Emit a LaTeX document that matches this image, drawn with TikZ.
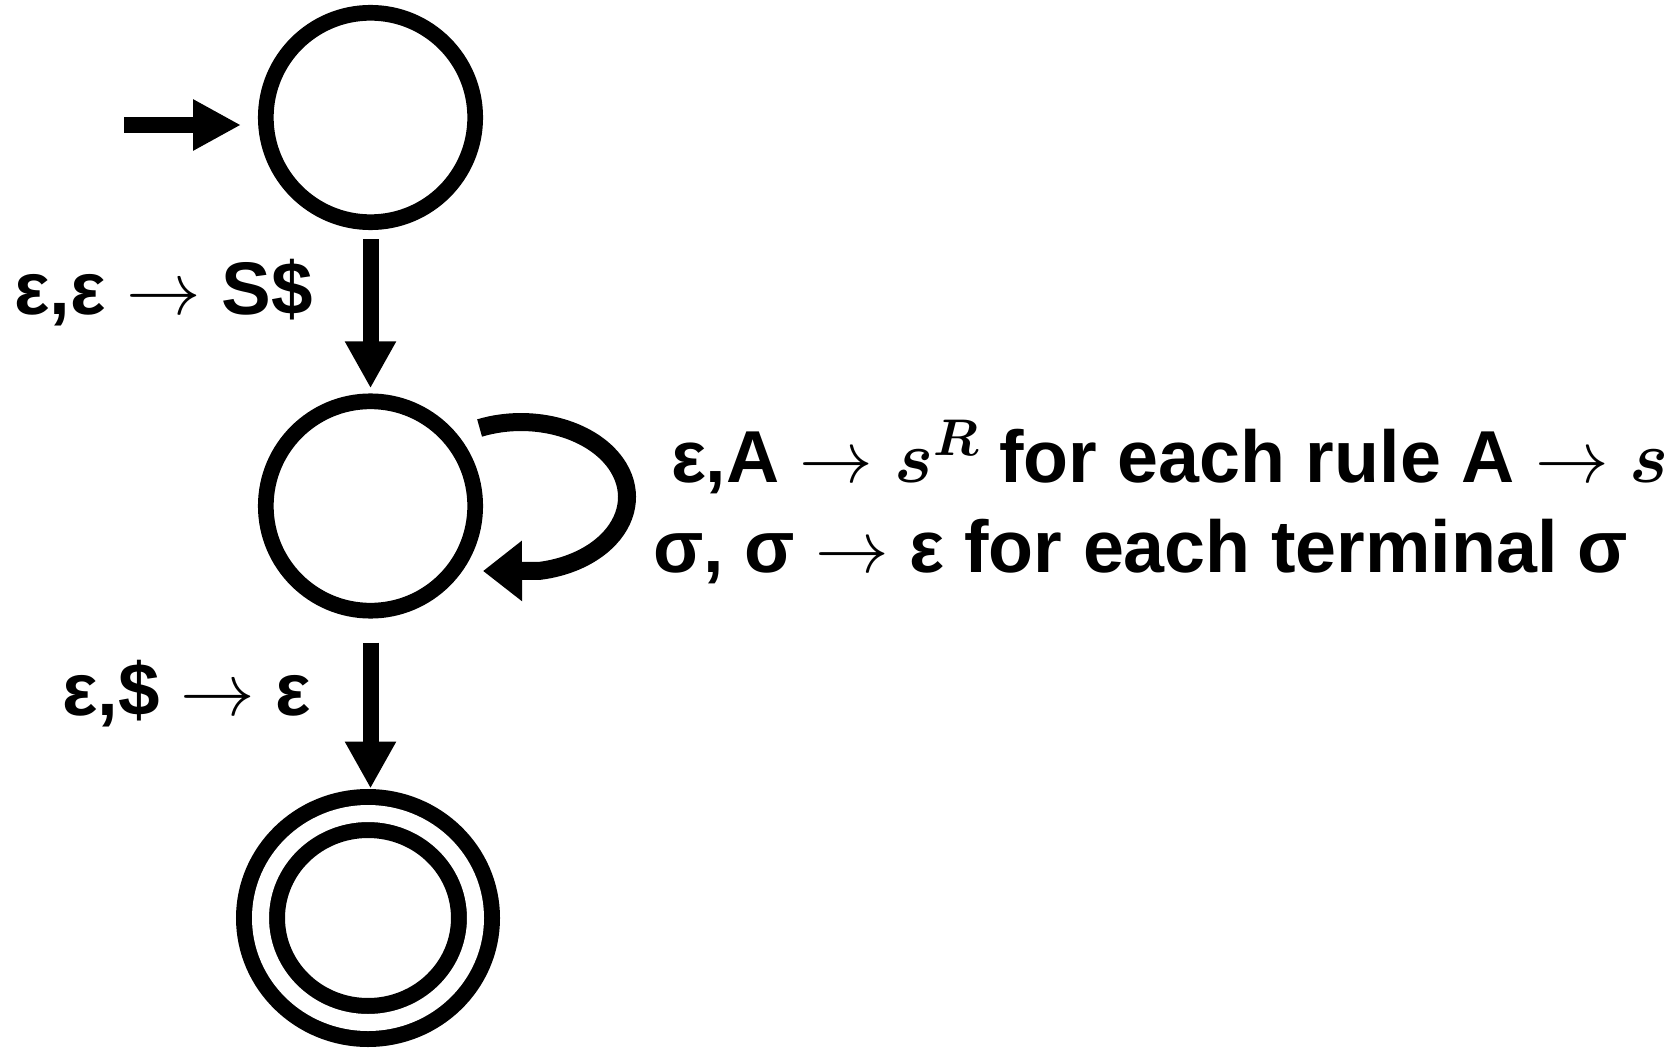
\RequirePackage{fix-cm}
\documentclass[tikz,border=0pt]{standalone}
\usepackage{fontspec}
\setmainfont{Liberation Sans}
\usetikzlibrary{arrows.meta,shapes.geometric}
\begin{document}
\begin{tikzpicture}[x=1pt,y=-1pt,
  state/.style={circle,draw,line width=15.7pt,minimum size=209.4pt,inner sep=0pt,outer sep=0pt},
  accept/.style={ellipse,draw,line width=16pt,double,double distance=17pt,minimum width=215pt,minimum height=209pt,inner sep=0pt,outer sep=0pt},
  trans/.style={line width=16pt,-{Triangle[length=47pt,width=48pt]}},
  initarrow/.style={line width=15.3pt,-{Triangle[length=48pt,width=48pt]}},
  selfloop/.style={line width=18pt,-{Triangle[length=39pt,width=58pt]}},
  lbl/.style={anchor=base west,inner sep=0pt,outer sep=0pt,font=\fontsize{74.5}{80}\selectfont\bfseries},
  looplbl/.style={lbl,font=\fontsize{73.6}{80}\selectfont\bfseries}]
\useasboundingbox (0,0) rectangle (1680,1048);
\node[state] (q0) at (370.5,117.5) {};
\node[state] (q1) at (370.5,506) {};
\node[accept] (q2) at (368,918) {};
\coordinate (istart) at (124,125);
\draw[initarrow,shorten >=24.8pt] (istart) -- (istart -| q0.west);
\draw[trans,shorten <=17pt,shorten >=13pt] (q0.south) -- (q1.north);
\draw[trans,shorten <=32pt,shorten >=25pt] (q1.south) -- (q1.south |- q2.north);
\draw[selfloop] ([shift={(109.1,-78)}]q1.center) arc[start angle=-113,end angle=80,x radius=106,y radius=75] -- ([shift={(112.5,65)}]q1.center);
\node[lbl] (l1) at (14,315) {ε,ε $\rightarrow$ S\$};
\node[lbl] (l3) at (62,715) {ε,\$ $\rightarrow$ ε};
\node[looplbl] (l2a) at (671,482) {ε,A $\rightarrow$ {\boldmath$s^R$} for each rule A $\rightarrow$ {\boldmath$s$}};
\node[looplbl] (l2b) at (653,572) {σ, σ $\rightarrow$ ε for each terminal σ};
\end{tikzpicture}
\end{document}
